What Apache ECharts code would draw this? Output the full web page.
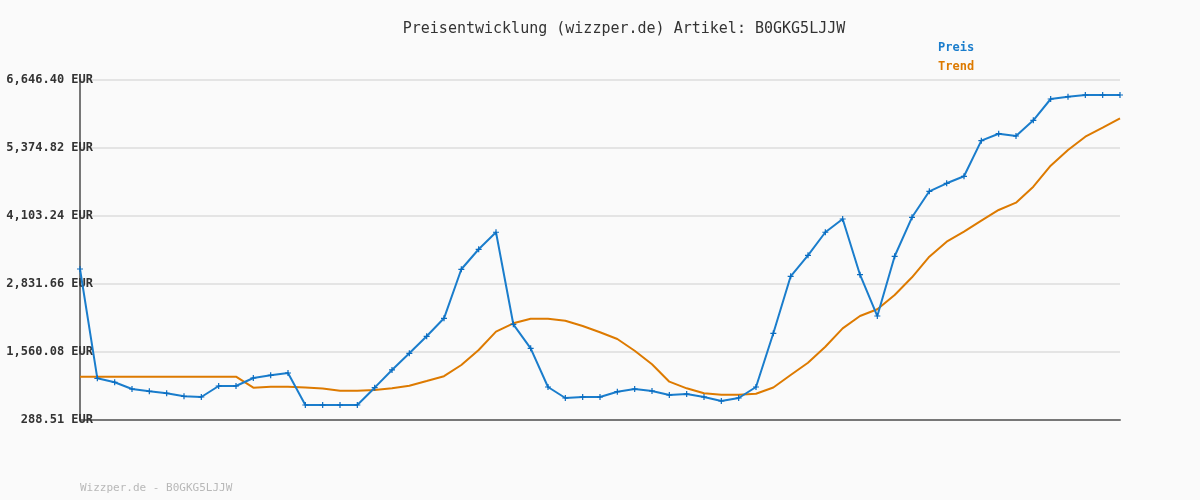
<!DOCTYPE html>
<html><head><meta charset="utf-8">
<script src="https://cdn.jsdelivr.net/npm/echarts@6/dist/echarts.min.js"></script>
<style>html,body{margin:0;padding:0;background:#fafafa}#c{width:1200px;height:500px}</style>
</head><body><div id="c"></div>
<script>
const titleText = 'Preisentwicklung (wizzper.de) Artikel: B0GKG5LJJW';
const footerText = 'Wizzper.de - B0GKG5LJJW';
const yTicks = [288.51, 1560.08, 2831.66, 4103.24, 5374.82, 6646.40];
const preis = [3112,1068,994,868,825,788,732,719,924,924,1074,1124,1167,569,569,569,569,893,1224,1536,1854,2190,3107,3481,3799,2078,1629,906,700,719,719,818,868,831,756,775,719,644,700,906,1910,2976,3368,3799,4047,3006,2233,3350,4079,4565,4715,4846,5512,5642,5599,5893,6291,6334,6366,6366,6366];
const trend = [1098,1098,1098,1098,1098,1098,1098,1098,1098,1098,893,911,911,896,878,836,836,850,881,930,1018,1108,1317,1598,1940,2097,2183,2183,2145,2046,1929,1803,1584,1330,1005,881,788,762,762,780,896,1130,1360,1659,2003,2233,2359,2626,2957,3342,3623,3810,4015,4216,4352,4651,5044,5337,5586,5755,5930];
const categories = preis.map((_, i) => String(i + 1));

const chart = echarts.init(document.getElementById('c'), null, {renderer: 'canvas'});
const mono = '"DejaVu Sans Mono", monospace';
const nearestTick = v => yTicks.reduce((a, b) => Math.abs(b - v) < Math.abs(a - v) ? b : a);
const fmt = v => nearestTick(v).toLocaleString('en-US', {minimumFractionDigits: 2, maximumFractionDigits: 2}) + ' EUR';
chart.setOption({
  backgroundColor: '#fafafa',
  animation: false,
  title: [
    {text: titleText, left: 619, top: 17, textAlign: 'center',
     textStyle: {fontFamily: mono, fontSize: 15, fontWeight: 'normal', color: '#333'}},
    {text: footerText, left: 75, top: 478,
     textStyle: {fontFamily: mono, fontSize: 11, fontWeight: 'normal', color: '#b8b8b8'}}
  ],
  legend: {
    orient: 'vertical', left: 928, top: 37, itemGap: 7, itemWidth: 0, itemHeight: 0,
    icon: 'rect', selectedMode: false,
    data: [
      {name: 'Preis', textStyle: {color: '#1a7dcc'}},
      {name: 'Trend', textStyle: {color: '#dd7a00'}}
    ],
    textStyle: {fontFamily: mono, fontSize: 12, fontWeight: 'bold'}
  },
  grid: {left: 80, right: 80, top: 80, bottom: 80},
  xAxis: {
    type: 'category', data: categories, boundaryGap: false,
    axisLine: {lineStyle: {color: '#777', width: 2}},
    axisTick: {show: false}, axisLabel: {show: false}, splitLine: {show: false}
  },
  yAxis: {
    type: 'value', min: yTicks[0], max: yTicks[yTicks.length - 1],
    interval: (yTicks[yTicks.length - 1] - yTicks[0]) / (yTicks.length - 1),
    axisLine: {show: true, lineStyle: {color: '#777', width: 2}},
    axisTick: {show: false},
    axisLabel: {margin: -13, fontFamily: mono, fontSize: 12, fontWeight: 'bold', color: '#333',
      formatter: v => fmt(v)},
    splitLine: {lineStyle: {color: '#e4e4e4', width: 2}}
  },
  series: [
    {name: 'Preis', type: 'line', data: preis, color: '#1a7dcc',
     lineStyle: {width: 2, color: '#1a7dcc'},
     symbol: 'path://M2,0H3V2H5V3H3V5H2V3H0V2H2Z', symbolSize: 6, showSymbol: true,
     itemStyle: {color: '#0a6cc0'}, z: 3},
    {name: 'Trend', type: 'line', data: trend, color: '#dd7a00',
     lineStyle: {width: 2, color: '#dd7a00'}, symbol: 'none', z: 2}
  ]
});
</script></body></html>
